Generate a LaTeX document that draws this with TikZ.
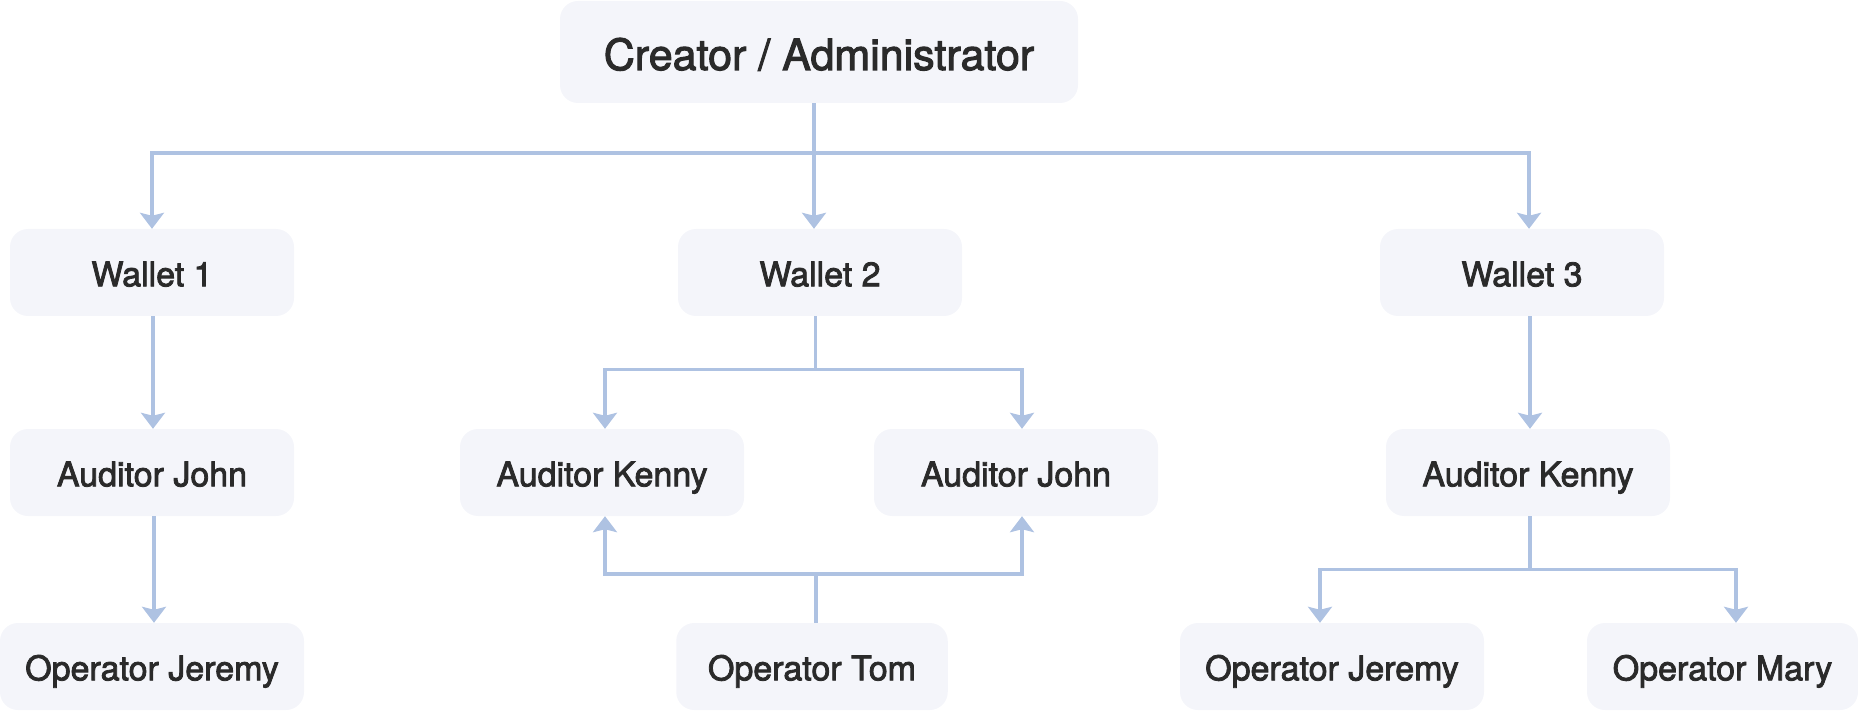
\documentclass[tikz,border=0pt]{standalone}
\usepackage{fontspec}
\setmainfont{TeX Gyre Heros}
\newfontfamily\medfont[FakeBold=2.4]{TeX Gyre Heros}
\usetikzlibrary{arrows.meta}
\definecolor{linec}{HTML}{AEC2E2}
\definecolor{boxfill}{HTML}{F4F5FA}
\definecolor{txt}{HTML}{2A2A2A}
\begin{document}
\begin{tikzpicture}[x=1pt,y=-1pt,
  box/.style={rectangle, rounded corners=18pt, fill=boxfill, inner sep=0pt, text=txt,
    minimum height=87pt, minimum width=284pt, text height=27.6pt, text depth=0pt,
    font=\medfont\fontsize{34}{40}\selectfont},
  conn/.style={draw=linec, line width=3.6pt, line join=miter},
  arr/.style={conn, -{Stealth[length=16pt,width=24pt,inset=3pt]}}]
\useasboundingbox (0,0) rectangle (1858,711);
% nodes
\node[box, minimum width=518pt, minimum height=102pt, text height=36pt,
  font=\medfont\fontsize{43}{50}\selectfont] (creator) at (819,52) {Creator / Administrator};
\node[box] (w1) at (152,272.5) {Wallet 1};
\node[box] (w2) at (820,272.5) {Wallet 2};
\node[box] (w3) at (1522,272.5) {Wallet 3};
\node[box] (ajl) at (152,472.5) {Auditor John};
\node[box] (akm) at (602,472.5) {Auditor Kenny};
\node[box] (ajm) at (1016,472.5) {Auditor John};
\node[box] (akr) at (1528,472.5) {Auditor Kenny};
\node[box, minimum width=304pt] (ojl) at (152,666.5) {Operator Jeremy};
\node[box, minimum width=271.5pt] (tom) at (812,666.5) {Operator Tom};
\node[box, minimum width=304pt] (ojr) at (1332,666.5) {Operator Jeremy};
\node[box, minimum width=271pt] (mary) at (1722.5,666.5) {Operator Mary};
% junctions
\coordinate (j0) at (814,153);
\coordinate (j1) at (815.5,369.5);
\coordinate (j2) at (816,574);
\coordinate (j3) at (1530,569.5);
% connectors
\draw[arr] ([xshift=-5pt]creator.south) -- ([xshift=-6pt]w2.north);
\draw[arr] (j0) -| (w1.north);
\draw[arr] (j0) -| ([xshift=7pt]w3.north);
\draw[arr] ([xshift=1pt]w1.south) -- ([xshift=1pt]ajl.north);
\draw[arr] ([xshift=2pt]ajl.south) -- ([xshift=2pt]ojl.north);
\draw[conn] ([xshift=-4.5pt]w2.south) -- (j1);
\draw[arr] (j1) -| ([xshift=3pt]akm.north);
\draw[arr] (j1) -| ([xshift=6pt]ajm.north);
\draw[conn] ([xshift=4pt]tom.north) -- (j2);
\draw[arr] (j2) -| ([xshift=3pt]akm.south);
\draw[arr] (j2) -| ([xshift=6pt]ajm.south);
\draw[arr] ([xshift=8pt]w3.south) -- ([xshift=8pt]w3.south |- akr.north);
\draw[conn] ([xshift=2pt]akr.south) -- (j3);
\draw[arr] (j3) -| ([xshift=-12pt]ojr.north);
\draw[arr] (j3) -| ([xshift=13.5pt]mary.north);
\end{tikzpicture}
\end{document}
